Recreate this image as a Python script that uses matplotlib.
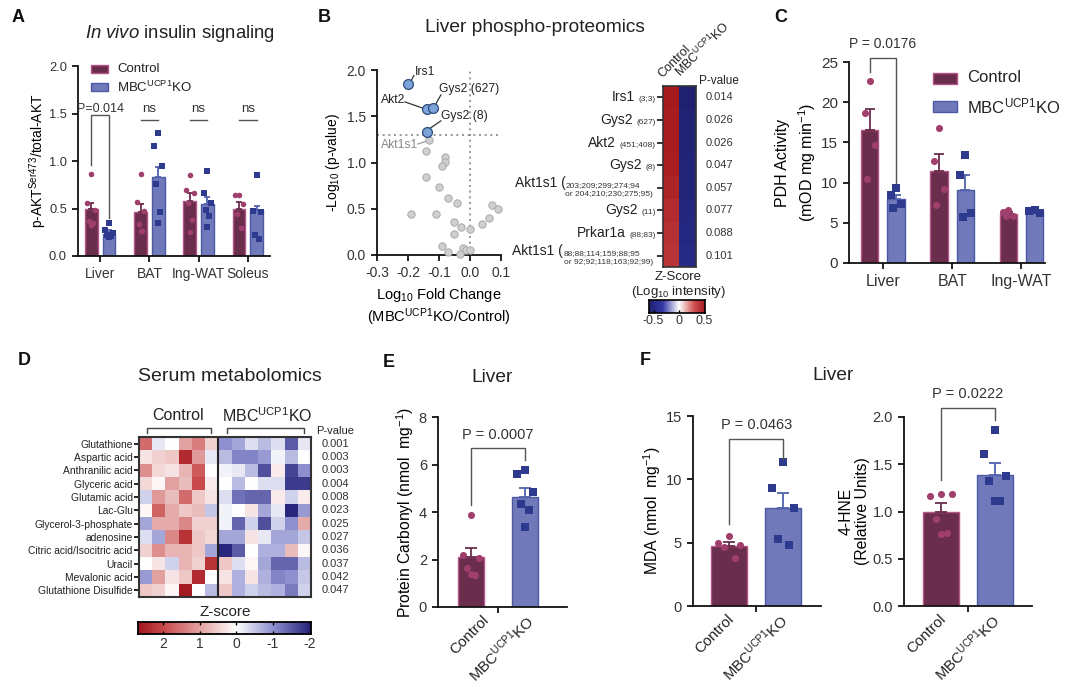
import numpy as np
import matplotlib
matplotlib.use('Agg')
import matplotlib.pyplot as plt
import matplotlib.transforms as mtransforms
from matplotlib.colors import LinearSegmentedColormap, Normalize
from matplotlib.patches import Rectangle
from matplotlib.offsetbox import TextArea, HPacker, AnnotationBbox

plt.rcParams['font.family'] = ['Liberation Sans', 'DejaVu Sans']
plt.rcParams['mathtext.fontset'] = 'custom'
plt.rcParams['mathtext.rm'] = 'Liberation Sans'
plt.rcParams['mathtext.it'] = 'Liberation Sans:italic'
plt.rcParams['mathtext.bf'] = 'Liberation Sans:bold'
plt.rcParams['text.color'] = '#222222'

# ---------------- DATA ----------------
a_tissues = ['Liver', 'BAT', 'Ing-WAT', 'Soleus']
a_ctrl_mean = [0.49, 0.46, 0.58, 0.50]
a_ctrl_sem = [0.07, 0.09, 0.08, 0.07]
a_ko_mean = [0.23, 0.83, 0.55, 0.48]
a_ko_sem = [0.04, 0.11, 0.07, 0.05]
a_ctrl_pts = [[0.86, 0.56, 0.48, 0.37, 0.35, 0.33], [0.86, 0.57, 0.47, 0.34, 0.26, 0.26],
              [0.85, 0.70, 0.66, 0.56, 0.38, 0.25], [0.64, 0.64, 0.55, 0.44, 0.30]]
a_ko_pts = [[0.35, 0.27, 0.24, 0.22, 0.21, 0.20], [1.30, 1.16, 0.95, 0.76, 0.46, 0.35],
            [0.89, 0.66, 0.56, 0.48, 0.42, 0.31], [0.85, 0.47, 0.46, 0.22, 0.18]]
a_sig = ['P=0.014', 'ns', 'ns', 'ns']

v_blue_x = [-0.20, -0.14, -0.12, -0.14]
v_blue_y = [1.85, 1.58, 1.59, 1.335]
v_blue_lab = ['Irs1', 'Akt2', 'Gys2 (627)', 'Gys2 (8)']
v_grey_x = [-0.131, -0.141, -0.082, -0.082, -0.090, -0.141, -0.101, -0.072, -0.041, -0.191, -0.111,
            0.070, 0.089, 0.060, 0.039, -0.051, -0.030, -0.051, 0.001, -0.090, -0.070, -0.021,
            -0.012, -0.032, 0.001]
v_grey_y = [1.245, 1.126, 1.058, 1.004, 0.957, 0.845, 0.734, 0.612, 0.561, 0.439, 0.439,
            0.536, 0.496, 0.396, 0.335, 0.356, 0.299, 0.227, 0.277, 0.094, 0.032, 0.076,
            0.050, 0.014, 0.050]

hm_names = ['Irs1', 'Gys2', 'Akt2', 'Gys2', 'Akt1s1 (', 'Gys2', 'Prkar1a', 'Akt1s1 (']
hm_sites = ['(3;3)', '(627)', '(451;408)', '(8)', '203;209;299;274;94', '(11)', '(88;83)',
            '88;88;114;159;88;95']
hm_sites2 = ['', '', '', '', 'or 204;210;230;275;95)', '', '', 'or 92;92;118;163;92;99)']
hm_pvals = ['0.014', '0.026', '0.026', '0.047', '0.057', '0.077', '0.088', '0.101']
hm_ctrl = [0.51, 0.50, 0.50, 0.49, 0.47, 0.44, 0.42, 0.41]
hm_ko = [-0.59, -0.57, -0.57, -0.55, -0.55, -0.52, -0.50, -0.48]

c_tissues = ['Liver', 'BAT', 'Ing-WAT']
c_ctrl_mean = [16.6, 11.4, 6.1]
c_ctrl_sem = [2.6, 2.2, 0.2]
c_ko_mean = [7.9, 9.1, 6.5]
c_ko_sem = [0.6, 1.9, 0.15]
c_ctrl_pts = [[22.6, 18.6, 14.7, 10.4], [16.8, 12.7, 9.2, 7.2], [6.6, 6.4, 5.9, 5.9]]
c_ko_pts = [[9.35, 8.4, 7.3, 6.8], [13.4, 10.9, 6.2, 5.7], [6.6, 6.5, 6.2]]

d_metabolites = ['Glutathione', 'Aspartic acid', 'Anthranilic acid', 'Glyceric acid', 'Glutamic acid',
                 'Lac-Glu', 'Glycerol-3-phosphate', 'adenosine', 'Citric acid/Isocitric acid', 'Uracil',
                 'Mevalonic acid', 'Glutathione Disulfide']
d_pvals = ['0.001', '0.003', '0.003', '0.004', '0.008', '0.023', '0.025', '0.027', '0.036', '0.037',
           '0.042', '0.047']
d_z = [
    [1.6, -0.2, 0.0, 1.0, 1.4, 0.5, -1.0, -0.8, -0.3, -0.6, -0.3, -1.5, -0.2],
    [0.3, 0.5, 0.6, 2.4, 1.1, -0.2, -0.6, -1.1, -1.1, -0.9, -0.1, -0.6, 0.0],
    [1.2, 0.4, 0.3, 0.8, 1.8, 0.0, -0.1, -0.2, -0.6, -1.6, 0.2, -1.7, -1.0],
    [0.4, 0.1, 1.0, 0.7, 2.0, 0.2, 0.0, -0.6, 0.0, -0.3, -0.3, -1.8, -1.8],
    [-0.4, 1.1, 0.7, 1.6, 0.6, 0.3, -0.3, -1.3, -1.4, -1.4, 0.2, -0.4, 0.2],
    [0.1, 1.7, 0.9, 0.6, 0.7, -0.5, -0.1, 0.0, 0.3, -0.8, -0.2, -2.0, -0.9],
    [-0.8, 0.9, 0.9, 1.3, 0.5, 0.5, -0.1, -1.4, -0.4, -1.6, -0.4, -1.0, 0.9],
    [-0.3, -0.8, 1.3, 2.3, 0.6, 0.4, -0.8, -0.8, 0.3, -0.2, -0.8, -0.8, -0.5],
    [0.5, 1.2, 0.8, 0.8, 0.6, -0.8, -2.0, -1.5, 0.0, -0.7, -0.7, 0.7, 0.1],
    [0.0, 0.3, -0.4, 0.8, 0.5, 2.3, 0.6, -0.3, 0.1, -0.8, -1.4, -1.4, -0.6],
    [-0.9, 1.0, 0.3, 0.6, 2.4, 0.0, 0.3, -0.7, 0.3, -0.7, -1.1, -1.0, -0.5],
    [0.6, 0.5, 0.1, 2.6, 0.0, -0.6, 0.6, -0.7, -0.4, -0.6, -0.7, -1.2, -0.4],
]

e_ctrl_pts = [3.88, 2.20, 2.07, 1.65, 1.35, 1.38]
e_ko_pts = [5.78, 5.60, 4.85, 4.33, 4.10, 3.35]
e_mean = [2.09, 4.63]
e_sem = [0.40, 0.38]

f1_ctrl_pts = [5.5, 5.0, 4.85, 4.65, 3.8]
f1_ko_pts = [11.4, 9.3, 7.7, 5.3, 4.8]
f1_mean = [4.7, 7.7]
f1_sem = [0.33, 1.25]

f2_ctrl_pts = [1.19, 1.16, 1.19, 0.92, 0.77, 0.76]
f2_ko_pts = [1.86, 1.61, 1.38, 1.32, 1.11, 1.11]
f2_mean = [1.00, 1.39]
f2_sem = [0.09, 0.12]

groups = ['Control', r'MBC$^{\mathrm{UCP1}}$KO']

# ---------------- STYLE ----------------
CT_FACE, CT_EDGE, CT_PT, CT_ERR = '#6A2D4C', '#B4568A', '#A03F6C', '#6A2D4C'
KO_FACE, KO_EDGE, KO_PT, KO_ERR = '#7079BA', '#4B58A2', '#2E3A8E', '#5262AE'
BRK = '#555555'

W, H = 1080, 694
fig = plt.figure(figsize=(W / 100, H / 100), dpi=100)
PX = mtransforms.Affine2D().scale(1.0 / W, -1.0 / H).translate(0, 1) + fig.transFigure


def pax(l, t, r, b):
    return fig.add_axes([l / W, 1 - b / H, (r - l) / W, (b - t) / H])


def ftext(x, y, s, **kw):
    return fig.text(x, y, s, transform=PX, **kw)


def style(ax, fs=9.5):
    for s in ['top', 'right']:
        ax.spines[s].set_visible(False)
    for s in ['left', 'bottom']:
        ax.spines[s].set_linewidth(1.3)
        ax.spines[s].set_color('#111111')
    ax.tick_params(direction='out', length=4.5, width=1.3, labelsize=fs, colors='#111111',
                   labelcolor='#333333')


def jit(n):
    pat = [0.0, -1.0, 1.0, -0.5, 0.5, 0.0, -1.0, 1.0]
    return np.array(pat[:n])


def bar_group(ax, x, mean, sem, pts, ctrl, width, ms, cap):
    face, edge, pc, ec = (CT_FACE, CT_EDGE, CT_PT, CT_ERR) if ctrl else (KO_FACE, KO_EDGE, KO_PT, KO_ERR)
    ax.bar(x, mean, width, color=face, edgecolor=edge, linewidth=1.0, zorder=2)
    ax.errorbar(x, mean, yerr=[[0], [sem]], fmt='none', ecolor=ec, elinewidth=1.3, capsize=cap,
                capthick=1.3, zorder=3)
    xs = x + jit(len(pts)) * width * 0.3
    ax.scatter(xs, pts, s=ms, c=pc, marker='o' if ctrl else 's', linewidths=0, zorder=4)


def bracket(ax, x1, x2, ytop, y1, y2, label, tx, ty, fs):
    ax.plot([x1, x1, x2, x2], [y1, ytop, ytop, y2], color=BRK, lw=1.0, clip_on=False, zorder=5)
    ax.text(tx, ty, label, ha='center', va='center', fontsize=fs, color='#333333')


# ---------------- PANEL LETTERS ----------------
for lt, x, y in [('A', 12, 18), ('B', 318, 18), ('C', 774, 18), ('D', 18, 361), ('E', 383, 363), ('F', 640, 361)]:
    ftext(x, y, lt, fontsize=13, fontweight='bold', va='center', ha='left', color='#111111')

# ---------------- PANEL A ----------------
axA = pax(78, 66, 270, 256)
style(axA, 9.3)
xa = np.arange(len(a_tissues))
off, bw = 0.18, 0.26
for i in range(len(a_tissues)):
    bar_group(axA, xa[i] - off, a_ctrl_mean[i], a_ctrl_sem[i], a_ctrl_pts[i], True, bw, 16, 2.5)
    bar_group(axA, xa[i] + off, a_ko_mean[i], a_ko_sem[i], a_ko_pts[i], False, bw, 16, 2.5)
axA.set_xlim(-0.45, 3.45)
axA.set_ylim(0, 2.0)
axA.set_yticks([0, 0.5, 1.0, 1.5, 2.0])
axA.set_yticklabels(['0.0', '0.5', '1.0', '1.5', '2.0'])
axA.set_xticks(xa)
axA.set_xticklabels(a_tissues, fontsize=10)
axA.set_ylabel(r'p-AKT$^{\mathrm{Ser473}}$/total-AKT', fontsize=10, labelpad=0)
bracket(axA, -off, off, 1.48, 0.96, 0.40, a_sig[0], 0.0, 1.55, 9)
for i in range(1, 4):
    axA.plot([xa[i] - off, xa[i] + off], [1.43, 1.43], color=BRK, lw=1.0)
    axA.text(xa[i], 1.55, a_sig[i], ha='center', va='center', fontsize=9.5, color='#333333')
ftext(180, 33, r'$\mathit{In\ vivo}$ insulin signaling', fontsize=13.3, ha='center', va='center')
for j, (lab, ctrl) in enumerate(zip(groups, [True, False])):
    yy = 69 + 18 * j
    fig.add_artist(Rectangle((91, yy - 4), 17, 8, transform=PX, facecolor=CT_FACE if ctrl else KO_FACE,
                             edgecolor=CT_EDGE if ctrl else KO_EDGE, lw=1.0))
    ftext(117, yy, lab, fontsize=9.5, va='center', ha='left')

# ---------------- PANEL B volcano ----------------
axB = pax(377, 70, 501, 255)
style(axB, 10)
axB.set_xlim(-0.3, 0.1)
axB.set_ylim(0, 2.0)
axB.set_xticks([-0.3, -0.2, -0.1, 0.0, 0.1])
axB.set_xticklabels(['-0.3', '-0.2', '-0.1', '0.0', '0.1'])
axB.set_yticks([0, 0.5, 1.0, 1.5, 2.0])
axB.set_yticklabels(['0.0', '0.5', '1.0', '1.5', '2.0'])
axB.axvline(0, color='#888888', ls=(0, (1.2, 2.2)), lw=1.2, zorder=1)
axB.axhline(1.3, color='#888888', ls=(0, (1.2, 2.2)), lw=1.2, zorder=1)
axB.scatter(v_grey_x, v_grey_y, s=28, c='#CFCFCF', edgecolors='#A9A9A9', linewidths=0.7, zorder=3, clip_on=False)
axB.scatter(v_blue_x, v_blue_y, s=50, c='#7BA5DA', edgecolors='#2E4A7A', linewidths=0.9, zorder=4, clip_on=False)
lab_pos = [(-0.178, 1.98, 'left', (-0.192, 1.87), (-0.181, 1.94)),
           (-0.21, 1.68, 'right', (-0.21, 1.655), (-0.15, 1.585)),
           (-0.100, 1.79, 'left', (-0.114, 1.61), (-0.094, 1.73)),
           (-0.092, 1.50, 'left', (-0.133, 1.36), (-0.094, 1.45))]
for (tx, ty, ha, p0, p1), lab in zip(lab_pos, v_blue_lab):
    axB.text(tx, ty, lab, ha=ha, va='center', fontsize=8.7, color='#222222', clip_on=False)
    axB.plot([p0[0], p1[0]], [p0[1], p1[1]], color='#333333', lw=0.9, clip_on=False)
axB.text(-0.168, 1.19, 'Akt1s1', ha='right', va='center', fontsize=8.7, color='#888888', clip_on=False)
axB.plot([-0.168, -0.137], [1.2, 1.235], color='#999999', lw=0.9)
axB.set_ylabel(r'-Log$_{10}$ (p-value)', fontsize=10, labelpad=3)
axB.set_xlabel('Log$_{10}$ Fold Change\n(MBC$^{\\mathrm{UCP1}}$KO/Control)', fontsize=10.5, labelpad=4,
               linespacing=1.15)
ftext(535, 28, 'Liver phospho-proteomics', fontsize=13.8, ha='center', va='center')

# ---------------- PANEL B heatmap ----------------
cmapB = LinearSegmentedColormap.from_list('b', [(0, '#1F2170'), (0.25, '#3539A6'), (0.536, '#FFFFFF'),
                                                (0.8, '#D05454'), (1, '#A51A1F')])
normB = Normalize(-0.59, 0.51)
axH = pax(663, 86, 696, 267)
mat = np.array([hm_ctrl, hm_ko]).T
axH.imshow(mat, cmap=cmapB, norm=normB, aspect='auto', extent=(0, 2, len(hm_ctrl), 0))
axH.set_xticks([])
axH.set_yticks(np.arange(len(hm_ctrl)) + 0.5)
axH.set_yticklabels([])
axH.tick_params(axis='y', direction='out', length=4, width=1.2, colors='#111111')
for s in axH.spines.values():
    s.set_linewidth(1.2)
    s.set_color('#333333')
rowh = (267 - 86) / len(hm_ctrl)
for i in range(len(hm_ctrl)):
    yc = 86 + (i + 0.5) * rowh
    if hm_sites2[i]:
        pk = HPacker(children=[TextArea(hm_names[i], textprops=dict(size=10, color='#222222')),
                               TextArea(hm_sites[i], textprops=dict(size=6, color='#333333'))],
                     align='baseline', pad=0, sep=0)
        fig.add_artist(AnnotationBbox(pk, (640, yc - 5), xycoords=PX, box_alignment=(1, 0.5), frameon=False))
        ftext(653, yc + 6.5, hm_sites2[i], fontsize=6, ha='right', va='center', color='#333333')
    else:
        pk = HPacker(children=[TextArea(hm_names[i], textprops=dict(size=10, color='#222222')),
                               TextArea(hm_sites[i], textprops=dict(size=6, color='#333333'))],
                     align='baseline', pad=0, sep=3)
        fig.add_artist(AnnotationBbox(pk, (656, yc), xycoords=PX, box_alignment=(1, 0.5), frameon=False))
    ftext(719, yc, hm_pvals[i], fontsize=8, ha='center', va='center', color='#333333')
ftext(719, 81, 'P-value', fontsize=8.5, ha='center', va='center')
ftext(664, 80, 'Control', fontsize=9, rotation=45, ha='left', va='bottom', rotation_mode='anchor')
ftext(683, 80, r'MBC$^{\mathrm{UCP1}}$KO', fontsize=9, rotation=45, ha='left', va='bottom', rotation_mode='anchor')
ftext(678, 277, 'Z-Score', fontsize=9.5, ha='center', va='center')
ftext(679, 292, r'(Log$_{10}$ intensity)', fontsize=9.5, ha='center', va='center')
caxB = pax(649, 300, 705, 313)
gB = np.linspace(-0.59, 0.51, 256)[None, :]
caxB.imshow(gB, cmap=cmapB, norm=normB, aspect='auto', extent=(-0.59, 0.51, 0, 1))
caxB.set_xlim(-0.59, 0.51)
caxB.set_yticks([])
caxB.set_xticks([-0.5, 0, 0.5])
caxB.set_xticklabels(['-0.5', '0', '0.5'])
caxB.tick_params(axis='x', direction='in', length=2.5, width=1, labelsize=9, pad=1.5, labelcolor='#333333')
for s in caxB.spines.values():
    s.set_linewidth(1.2)

# ---------------- PANEL C ----------------
axC = pax(849, 62, 1045, 263)
style(axC, 11)
xc = np.arange(len(c_tissues))
offc, bwc = 0.19, 0.25
for i in range(len(c_tissues)):
    bar_group(axC, xc[i] - offc, c_ctrl_mean[i], c_ctrl_sem[i], c_ctrl_pts[i], True, bwc, 26, 3.5)
    bar_group(axC, xc[i] + offc, c_ko_mean[i], c_ko_sem[i], c_ko_pts[i], False, bwc, 26, 3.5)
axC.set_xlim(-0.49, 2.34)
axC.set_ylim(0, 25)
axC.set_yticks([0, 5, 10, 15, 20, 25])
axC.set_xticks(xc)
axC.set_xticklabels(c_tissues, fontsize=11.5)
axC.set_ylabel('PDH Activity\n(mOD mg min$^{-1}$)', fontsize=11.5, labelpad=2, linespacing=1.4)
bracket(axC, -offc, offc, 25.5, 23.7, 9.9, 'P = 0.0176', 0.0, 27.3, 10)
for j, (lab, ctrl) in enumerate(zip(groups, [True, False])):
    yy = 78 + 28 * j
    fig.add_artist(Rectangle((933, yy - 5.5), 24, 11, transform=PX, facecolor=CT_FACE if ctrl else KO_FACE,
                             edgecolor=CT_EDGE if ctrl else KO_EDGE, lw=1.0))
    ftext(967, yy, lab, fontsize=12, va='center', ha='left')

# ---------------- PANEL D ----------------
cmapD = LinearSegmentedColormap.from_list('d', [(0, '#25237A'), (0.22, '#8E90CF'), (0.431, '#FFFFFF'),
                                                (0.64, '#E3A3A3'), (0.85, '#C94B4D'), (1, '#A0161C')])
normD = Normalize(-2.04, 2.69)
axD = pax(139, 437, 311, 597)
Z = np.array(d_z)
axD.imshow(Z, cmap=cmapD, norm=normD, aspect='auto', extent=(0, Z.shape[1], Z.shape[0], 0))
axD.axvline(6, color='#222222', lw=1.5)
axD.set_xticks([])
axD.set_yticks(np.arange(len(d_metabolites)) + 0.5)
axD.set_yticklabels(d_metabolites, fontsize=7.4, color='#222222')
axD.tick_params(axis='y', direction='out', length=3.5, width=1.2, pad=1)
for s in axD.spines.values():
    s.set_linewidth(1.5)
    s.set_color('#333333')
rowd = (597 - 437) / len(d_metabolites)
for i, p in enumerate(d_pvals):
    ftext(335, 437 + (i + 0.5) * rowd, p, fontsize=8, ha='center', va='center', color='#333333')
ftext(335, 431, 'P-value', fontsize=8, ha='center', va='center')
ftext(230, 377, 'Serum metabolomics', fontsize=14, ha='center', va='center')
for (x0, x1, lab, tx) in [(147, 211, groups[0], 178), (227, 304, groups[1], 267)]:
    fig.add_artist(plt.Line2D([x0, x0, x1, x1], [433, 428, 428, 433], transform=PX, color='#444444', lw=1.0))
    ftext(tx, 416, lab, fontsize=11.5, ha='center', va='center')
ftext(225, 612, 'Z-score', fontsize=11, ha='center', va='center')
caxD = pax(138, 622, 311, 634)
gD = np.linspace(2.69, -2.04, 256)[None, :]
caxD.imshow(gD, cmap=cmapD, norm=normD, aspect='auto', extent=(2.69, -2.04, 0, 1))
caxD.set_xlim(2.69, -2.04)
caxD.set_yticks([])
caxD.set_xticks([2, 1, 0, -1, -2])
caxD.set_xticklabels(['2', '1', '0', '-1', '-2'])
caxD.tick_params(axis='x', direction='in', length=2.5, width=1, labelsize=10, pad=2, labelcolor='#333333',
                 top=True)
for s in caxD.spines.values():
    s.set_linewidth(1.3)


# ---------------- PANELS E / F ----------------
def two_bar(box, ctrl_pts, ko_pts, mean, sem, ylim, yticks, yticklabels, bw, ylabel, brk, lab_x, ms, lsp=1.3):
    ax = pax(*box[:4])
    style(ax, 10.5)
    bar_group(ax, 0, mean[0], sem[0], ctrl_pts, True, bw, ms, 4)
    bar_group(ax, 1, mean[1], sem[1], ko_pts, False, bw, ms, 4)
    ax.set_xlim(*box[4])
    ax.set_ylim(*ylim)
    ax.set_yticks(yticks)
    ax.set_yticklabels(yticklabels)
    ax.set_xticks([0.5])
    ax.set_xticklabels([''])
    ax.set_ylabel(ylabel, fontsize=11.3, labelpad=2, linespacing=lsp)
    bracket(ax, 0, 1, brk[0], brk[1], brk[2], brk[3], 0.5, brk[4], 10.5)
    tr = mtransforms.offset_copy(ax.get_xaxis_transform(), fig=fig, x=0, y=-11, units='dots')
    for xl, lab in zip(lab_x, groups):
        ax.text(xl, 0, lab, transform=tr, rotation=45, rotation_mode='anchor', ha='right', va='center',
                fontsize=10.8, color='#222222')
    return ax


two_bar((438, 417, 567, 607, (-0.61, 1.78)), e_ctrl_pts, e_ko_pts, e_mean, e_sem, (0, 8), [0, 2, 4, 6, 8],
        ['0', '2', '4', '6', '8'], 0.49, 'Protein Carbonyl (nmol  mg$^{-1}$)',
        (6.7, 4.3, 6.2, 'P = 0.0007', 7.25), [0.3, 1.12], 26)
ftext(492, 378, 'Liver', fontsize=13.8, ha='center', va='center')

two_bar((693, 416, 821, 606, (-0.67, 1.70)), f1_ctrl_pts, f1_ko_pts, f1_mean, f1_sem, (0, 15), [0, 5, 10, 15],
        ['0', '5', '10', '15'], 0.67, 'MDA (nmol  mg$^{-1}$)',
        (13.2, 6.5, 11.6, 'P = 0.0463', 14.3), [0.05, 1.05], 26)
two_bar((904, 417, 1032, 606, (-0.69, 1.69)), f2_ctrl_pts, f2_ko_pts, f2_mean, f2_sem, (0, 2.0),
        [0, 0.5, 1.0, 1.5, 2.0], ['0.0', '0.5', '1.0', '1.5', '2.0'], 0.67, '4-HNE\n(Relative Units)',
        (2.10, 1.33, 1.97, 'P = 0.0222', 2.24), [0.05, 1.05], 26, lsp=1.1)
ftext(833, 376, 'Liver', fontsize=13.8, ha='center', va='center')

fig.savefig('out.png', dpi=100, facecolor='white')
